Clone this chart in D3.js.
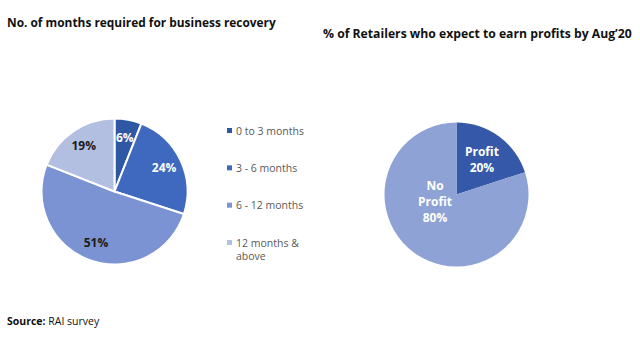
<!DOCTYPE html>
<html>
<head>
<meta charset="utf-8">
<script src="https://cdn.jsdelivr.net/npm/d3@7"></script>
<style>
  body { margin: 0; background: #fff; }
  svg { display: block; font-family: "Open Sans", "Noto Sans", sans-serif; }
</style>
</head>
<body>
<div id="chart"></div>
<script>
// left pie: months to recovery
const recoveryLabels = ["0 to 3 months", "3 - 6 months", "6 - 12 months", "12 months & above"]
const recoveryValues = [6, 24, 51, 19]
const recoveryColors = ["#2f58a4", "#3e69be", "#7b93d3", "#b3bfe1"]
const recoveryText = ["#fff", "#fff", "#1a1a1a", "#1a1a1a"]

// right pie: expected profit
const profitLabels = ["Profit", "No Profit"]
const profitValues = [20, 80]
const profitColors = ["#3559a8", "#8ea2d6"]

const width = 640, height = 342

const svg = d3.select("#chart").append("svg")
    .attr("width", width)
    .attr("height", height)

svg.append("text")
    .attr("x", 7).attr("y", 27)
    .attr("font-size", 11.9).attr("font-weight", "bold").attr("fill", "#111")
    .text("No. of months required for business recovery")

svg.append("text")
    .attr("x", 323).attr("y", 38)
    .attr("font-size", 12.2).attr("font-weight", "bold").attr("fill", "#111")
    .text("% of Retailers who expect to earn profits by Aug\u201920")

const source = svg.append("text")
    .attr("x", 7).attr("y", 325)
    .attr("font-size", 10.5).attr("fill", "#111")
source.append("tspan").attr("font-weight", "bold").text("Source:")
source.append("tspan").text(" RAI survey")

const pie = d3.pie().sort(null).value(d => d)

// left pie
const r1 = 73
const g1 = svg.append("g").attr("transform", "translate(114.5,191.5)")
const arc1 = d3.arc().innerRadius(0).outerRadius(r1)
const lab1 = d3.arc().innerRadius(r1 * 0.75).outerRadius(r1 * 0.75)
const arcs1 = pie(recoveryValues)

g1.selectAll("path")
    .data(arcs1)
    .join("path")
    .attr("d", arc1)
    .attr("fill", (d, i) => recoveryColors[i])
    .attr("stroke", "#fff")
    .attr("stroke-width", 2)

g1.selectAll("text")
    .data(arcs1)
    .join("text")
    .attr("transform", d => `translate(${lab1.centroid(d)})`)
    .attr("text-anchor", "middle")
    .attr("dy", "0.35em")
    .attr("font-size", 12)
    .attr("font-weight", "bold")
    .attr("fill", (d, i) => recoveryText[i])
    .text(d => d.data + "%")

// legend
const legendY = d3.scalePoint()
    .domain(recoveryLabels)
    .range([131, 243])
const legend = svg.append("g")
legend.selectAll("rect")
    .data(recoveryLabels)
    .join("rect")
    .attr("x", 227)
    .attr("y", d => legendY(d) - 3)
    .attr("width", 5).attr("height", 5)
    .attr("fill", (d, i) => recoveryColors[i])
legend.selectAll("text")
    .data(recoveryLabels)
    .join("text")
    .attr("x", 236)
    .attr("y", d => legendY(d))
    .attr("dy", "0.35em")
    .attr("font-size", 10.5)
    .attr("fill", "#595959")
    .each(function(d) {
        const t = d3.select(this)
        if (d === "12 months & above") {
            t.append("tspan").text("12 months &")
            t.append("tspan").attr("x", 236).attr("dy", "1.25em").text("above")
        } else {
            t.text(d)
        }
    })

// right pie
const r2 = 72
const g2 = svg.append("g").attr("transform", "translate(456.5,194.5)")
const arc2 = d3.arc().innerRadius(0).outerRadius(r2)
const arcs2 = pie(profitValues)

g2.selectAll("path")
    .data(arcs2)
    .join("path")
    .attr("d", arc2)
    .attr("fill", (d, i) => profitColors[i])

// profit label sits on its centroid, the big slice's label sits left of centre
const lab2 = d3.arc().innerRadius(r2 * 0.6).outerRadius(r2 * 0.6)
const labLines = [["Profit", "20%"], ["No", "Profit", "80%"]]
const labPos = d => d.index === 0 ? lab2.centroid(d) : [-21.5, 7.5]

g2.selectAll("text")
    .data(arcs2)
    .join("text")
    .attr("transform", d => `translate(${labPos(d)})`)
    .attr("text-anchor", "middle")
    .attr("font-size", 12)
    .attr("font-weight", "bold")
    .attr("fill", "#fff")
    .each(function(d, i) {
        const lines = labLines[i]
        const t = d3.select(this)
        lines.forEach((s, j) => {
            t.append("tspan")
                .attr("x", 0)
                .attr("y", (j - (lines.length - 1) / 2) * 16)
                .attr("dy", "0.35em")
                .text(s)
        })
    })
</script>
</body>
</html>
